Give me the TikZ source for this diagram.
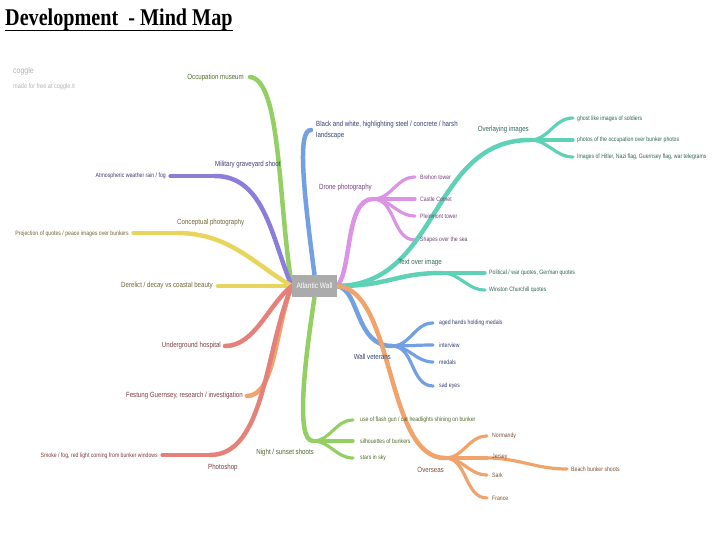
\documentclass[tikz,border=0pt]{standalone}
\usepackage{fontspec}
\setmainfont{Liberation Sans}[FakeStretch=0.82]
\newfontfamily\titlefont{Liberation Serif}[FakeStretch=0.84]
\usetikzlibrary{backgrounds}
\definecolor{gr}{HTML}{93CF63}\definecolor{grT}{HTML}{4E6B2B}
\definecolor{pu}{HTML}{8B7EDB}\definecolor{puT}{HTML}{3F3A73}
\definecolor{ye}{HTML}{E8D55E}\definecolor{yeT}{HTML}{6E6433}
\definecolor{re}{HTML}{E5807A}\definecolor{reT}{HTML}{7D3B3F}
\definecolor{orr}{HTML}{F0A46C}\definecolor{orT}{HTML}{7D4D36}
\definecolor{bl}{HTML}{72A0E0}\definecolor{blT}{HTML}{34416E}
\definecolor{vi}{HTML}{DC93E3}\definecolor{viT}{HTML}{74407A}
\definecolor{te}{HTML}{5ED1B7}\definecolor{teT}{HTML}{2E6559}
\begin{document}
\begin{tikzpicture}[x=1pt,y=-1pt,
  br/.style={line width=4.5, line cap=round},
  lf/.style={line width=3.2, line cap=round},
  lab/.style={font=\fontsize{7.5}{9}\selectfont, inner sep=0},
  leaf/.style={font=\fontsize{6.3}{7.5}\selectfont, inner sep=0}]
\useasboundingbox (0,0) rectangle (720,540);
% title
\node[anchor=base west, inner sep=0, font=\titlefont\bfseries\fontsize{24}{26}\selectfont] (title) at (5,26) {Development ~- Mind Map};
\draw[line width=1.5] ([yshift=-4.5pt]title.base west) -- ([yshift=-4.5pt]title.base east);
% watermark
\node[anchor=west, inner sep=0, text=black!30, font=\fontsize{8.5}{9}\selectfont] (cg) at (13,71) {coggle};
\node[anchor=west, inner sep=0, text=black!30, font=\fontsize{6.8}{8}\selectfont] (cgm) at (13,87) {made for free at coggle.it};
% root
\node[fill=black!33, text=white, minimum width=45, minimum height=22, inner sep=0, font=\fontsize{8}{9}\selectfont] (root) at (314.5,286) {Atlantic Wall};
% coordinates
\coordinate (occE) at (250,77);
\coordinate (milJ) at (215,176); \coordinate (atmE) at (170,176);
\coordinate (conJ) at (177,233); \coordinate (proE) at (133,233);
\coordinate (derE) at (218,286);
\coordinate (undE) at (225,346);
\coordinate (fesE) at (247,396);
\coordinate (phoJ) at (210,455); \coordinate (smoE) at (162,455);
\coordinate (bwE) at (311,130);
\coordinate (droJ) at (373,199);
\coordinate (bre) at (415,177); \coordinate (cas) at (415,199); \coordinate (ple) at (415,216); \coordinate (sha) at (415,240);
\coordinate (ovlJ) at (530,140);
\coordinate (gho) at (573,118); \coordinate (opb) at (573,140); \coordinate (hit) at (573,157);
\coordinate (txtJ) at (442,273);
\coordinate (pol) at (485,273); \coordinate (win) at (485,290);
\coordinate (vetJ) at (392,346);
\coordinate (age) at (433,323); \coordinate (itv) at (433,345); \coordinate (med) at (433,362); \coordinate (sad) at (433,386);
\coordinate (ovsJ) at (445,458);
\coordinate (nor) at (487,436); \coordinate (jer) at (487,458); \coordinate (sar) at (487,475); \coordinate (fra) at (487,498);
\coordinate (bea) at (567,469);
\coordinate (nigJ) at (313,441);
\coordinate (fla) at (353,420); \coordinate (sil) at (353,441); \coordinate (sta) at (353,458);
\begin{pgfonlayer}{background}
% left side
\draw[br,gr] (root.west) .. controls (278,200) and (281,80) .. (occE);
\draw[br,pu] (root.west) .. controls (272,240) and (265,176) .. (milJ);
\draw[lf,pu] (milJ) -- (atmE);
\draw[br,ye] (root.west) .. controls (255,265) and (230,233) .. (conJ);
\draw[lf,ye] (conJ) -- (proE);
\draw[br,ye] (root.west) -- (derE);
\draw[br,re] (root.west) .. controls (268,305) and (255,346) .. (undE);
\draw[br,orr] (root.west) .. controls (275,330) and (275,396) .. (fesE);
\draw[br,re] (root.west) .. controls (265,350) and (265,455) .. (phoJ);
\draw[lf,re] (phoJ) -- (smoE);
% top / bottom
\draw[br,bl] (root.north) .. controls (302,180) and (298,130) .. (bwE);
\draw[br,gr] (root.south) .. controls (305,360) and (295,441) .. (nigJ);
\foreach \e in {fla,sil,sta} \draw[lf,gr] (nigJ) to[out=0,in=180] (\e);
% right side
\draw[br,vi] (root.east) .. controls (352,270) and (345,199) .. (droJ);
\foreach \e in {bre,cas,ple,sha} \draw[lf,vi] (droJ) to[out=0,in=180] (\e);
\draw[br,te] (root.east) .. controls (440,285) and (430,140) .. (ovlJ);
\foreach \e in {gho,opb,hit} \draw[lf,te] (ovlJ) to[out=0,in=180] (\e);
\draw[br,te] (root.east) .. controls (390,286) and (395,273) .. (txtJ);
\foreach \e in {pol,win} \draw[lf,te] (txtJ) to[out=0,in=180] (\e);
\draw[br,bl] (root.east) .. controls (360,290) and (355,346) .. (vetJ);
\foreach \e in {age,itv,med,sad} \draw[lf,bl] (vetJ) to[out=0,in=180] (\e);
\draw[br,orr] (root.east) .. controls (395,290) and (385,458) .. (ovsJ);
\foreach \e in {nor,jer,sar,fra} \draw[lf,orr] (ovsJ) to[out=0,in=180] (\e);
\draw[lf,orr] (jer) to[out=0,in=180] (bea);
\end{pgfonlayer}
% labels left
\node[lab, text=grT, anchor=east] (l-occ) at (244,78) {Occupation museum};
\node[lab, text=puT, anchor=west] (l-mil) at (215,165) {Military graveyard shoot};
\node[leaf, text=puT, anchor=east] (l-atm) at (166,176) {Atmospheric weather rain / fog};
\node[lab, text=yeT, anchor=west] (l-con) at (177,223) {Conceptual photography};
\node[leaf, text=yeT, anchor=east] (l-pro) at (129,234) {Projection of quotes / peace images over bunkers};
\node[lab, text=yeT, anchor=east] (l-der) at (213,286) {Derelict / decay vs coastal beauty};
\node[lab, text=reT, anchor=east] (l-und) at (221,346) {Underground hospital};
\node[lab, text=reT, anchor=east] (l-fes) at (243,396) {Festung Guernsey, research / investigation};
\node[lab, text=reT, anchor=west] (l-pho) at (208,468) {Photoshop};
\node[leaf, text=reT, anchor=east] (l-smo) at (158,456) {Smoke / fog, red light coming from bunker windows};
% top / bottom labels
\node[lab, text=blT, anchor=west, align=left, font=\fontsize{7.5}{11}\selectfont] (l-bw) at (316,130) {Black and white, highlighting steel / concrete / harsh\\landscape};
\node[lab, text=grT, anchor=east] (l-nig) at (314,453) {Night / sunset shoots};
\node[leaf, text=grT, anchor=west] (l-fla) at (360,420) {use of flash gun / car headlights shining on bunker};
\node[leaf, text=grT, anchor=west] (l-sil) at (360,441) {silhouettes of bunkers};
\node[leaf, text=grT, anchor=west] (l-sta) at (360,458) {stars in sky};
% right labels
\node[lab, text=viT, anchor=east] (l-dro) at (372,188) {Drone photography};
\node[leaf, text=viT, anchor=west] (l-bre) at (420,177) {Brehon tower};
\node[leaf, text=viT, anchor=west] (l-cas) at (420,199) {Castle Cornet};
\node[leaf, text=viT, anchor=west] (l-ple) at (420,216) {Pleinmont tower};
\node[leaf, text=viT, anchor=west] (l-sha) at (420,240) {Shapes over the sea};
\node[lab, text=teT, anchor=east] (l-ovl) at (529,130) {Overlaying images};
\node[leaf, text=teT, anchor=west] (l-gho) at (577,119) {ghost like images of soldiers};
\node[leaf, text=teT, anchor=west] (l-opb) at (577,140) {photos of the occupation over bunker photos};
\node[leaf, text=teT, anchor=west] (l-hit) at (577,157) {Images of Hitler, Nazi flag, Guernsey flag, war telegrams};
\node[lab, text=teT, anchor=east] (l-txt) at (442,263) {Text over image};
\node[leaf, text=teT, anchor=west] (l-pol) at (489,273) {Political / war quotes, German quotes};
\node[leaf, text=teT, anchor=west] (l-win) at (489,290) {Winston Churchill quotes};
\node[lab, text=blT, anchor=east] (l-vet) at (391,357) {Wall veterans};
\node[leaf, text=blT, anchor=west] (l-age) at (439,323) {aged hands holding medals};
\node[leaf, text=blT, anchor=west] (l-itv) at (439,345) {interview};
\node[leaf, text=blT, anchor=west] (l-med) at (439,362) {medals};
\node[leaf, text=blT, anchor=west] (l-sad) at (439,386) {sad eyes};
\node[lab, text=orT, anchor=east] (l-ovs) at (444,470) {Overseas};
\node[leaf, text=orT, anchor=west] (l-nor) at (492,436) {Normandy};
\node[leaf, text=orT, anchor=west] (l-jer) at (492,457) {Jersey};
\node[leaf, text=orT, anchor=west] (l-sar) at (492,475) {Sark};
\node[leaf, text=orT, anchor=west] (l-fra) at (492,498) {France};
\node[leaf, text=orT, anchor=west] (l-bea) at (571,469) {Beach bunker shoots};
\end{tikzpicture}
\end{document}
